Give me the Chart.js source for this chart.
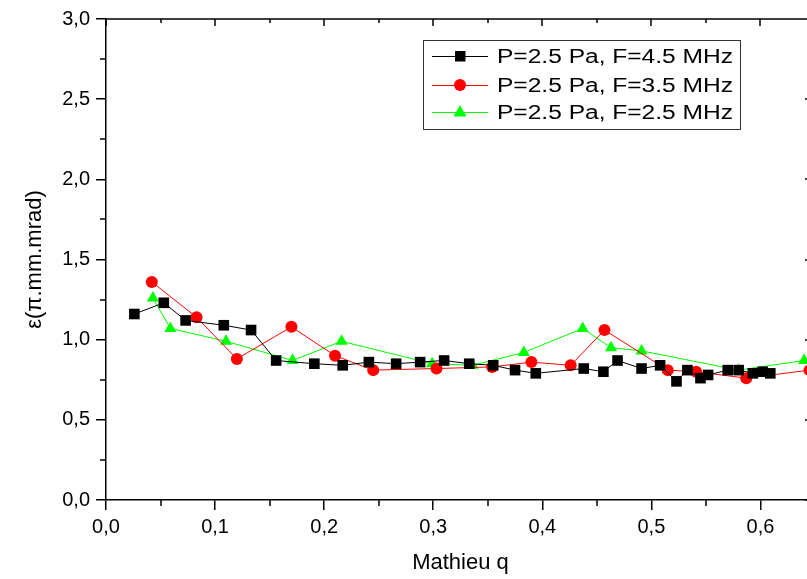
<!DOCTYPE html>
<html>
<head>
<meta charset="utf-8">
<script src="https://cdn.jsdelivr.net/npm/chart.js@4.4.1/dist/chart.umd.min.js"></script>
<style>
  html, body { margin: 0; padding: 0; overflow: hidden; background: #fff; }
  #wrap { position: absolute; left: 0; top: 0; width: 830px; height: 579px; }
</style>
</head>
<body>
<div id="wrap"><canvas id="chart"></canvas></div>
<script>
  'use strict';

  // axis ticks
  var xTicks = [0, 0.1, 0.2, 0.3, 0.4, 0.5, 0.6];
  var xMinor = [0.05, 0.15, 0.25, 0.35, 0.45, 0.55];
  var yTicks = [0, 0.5, 1.0, 1.5, 2.0, 2.5, 3.0];
  var yMinor = [0.25, 0.75, 1.25, 1.75, 2.25, 2.75];

  // P=2.5 Pa, F=4.5 MHz
  var q45 = [0.026, 0.053, 0.073, 0.108, 0.133, 0.156, 0.191, 0.217, 0.241, 0.266,
             0.288, 0.310, 0.333, 0.355, 0.375, 0.394, 0.438, 0.456, 0.469, 0.491,
             0.508, 0.523, 0.533, 0.545, 0.552, 0.570, 0.580, 0.593, 0.602, 0.609];
  var e45 = [1.16, 1.23, 1.12, 1.09, 1.06, 0.87, 0.85, 0.84, 0.86, 0.85,
             0.86, 0.87, 0.85, 0.84, 0.81, 0.79, 0.82, 0.80, 0.87, 0.82,
             0.84, 0.74, 0.81, 0.76, 0.78, 0.81, 0.81, 0.79, 0.80, 0.79];

  // P=2.5 Pa, F=3.5 MHz
  var q35 = [0.042, 0.083, 0.120, 0.170, 0.210, 0.245, 0.303, 0.354, 0.390, 0.426,
             0.457, 0.515, 0.541, 0.587, 0.645];
  var e35 = [1.36, 1.14, 0.88, 1.08, 0.90, 0.81, 0.82, 0.83, 0.86, 0.84,
             1.06, 0.81, 0.80, 0.76, 0.81];

  // P=2.5 Pa, F=2.5 MHz
  var q25 = [0.043, 0.059, 0.110, 0.171, 0.216, 0.299, 0.336, 0.383, 0.437, 0.463,
             0.491, 0.580, 0.640];
  var e25 = [1.26, 1.07, 0.99, 0.87, 0.99, 0.85, 0.84, 0.92, 1.07, 0.95,
             0.93, 0.81, 0.87];

  var labels = ['P=2.5 Pa, F=4.5 MHz', 'P=2.5 Pa, F=3.5 MHz', 'P=2.5 Pa, F=2.5 MHz'];
  var colors = ['#000000', '#ff0000', '#00ff00'];
  var styles = ['rect', 'circle', 'triangle'];
  var radii = [7.5, 6, 7];

  function pairs(xs, ys) {
    return xs.map(function(x, i) { return {x: x, y: ys[i]}; });
  }

  function comma(v) {
    return v.toFixed(1).replace('.', ',');
  }

  var seriesData = [pairs(q45, e45), pairs(q35, e35), pairs(q25, e25)];

  var datasets = seriesData.map(function(d, i) {
    return {
      label: labels[i],
      data: d,
      borderColor: colors[i],
      backgroundColor: colors[i],
      borderWidth: 1,
      pointStyle: styles[i],
      pointRadius: radii[i],
      pointHoverRadius: radii[i],
      pointBorderWidth: 0,
      tension: 0
    };
  });

  // frame: top/right axes, minor ticks
  var framePlugin = {
    id: 'frame',
    afterDraw: function(chart) {
      var ctx = chart.ctx, a = chart.chartArea;
      var xs = chart.scales.x, ys = chart.scales.y;
      ctx.save();
      ctx.strokeStyle = '#000';
      ctx.lineWidth = 1.5;
      ctx.beginPath();
      ctx.moveTo(a.left, a.top);
      ctx.lineTo(a.right, a.top);
      ctx.lineTo(a.right, a.bottom);
      xMinor.forEach(function(v) {
        var p = Math.round(xs.getPixelForValue(v));
        ctx.moveTo(p, a.bottom); ctx.lineTo(p, a.bottom + 6);
        ctx.moveTo(p, a.top); ctx.lineTo(p, a.top + 4);
      });
      xTicks.forEach(function(v) {
        var p = Math.round(xs.getPixelForValue(v));
        ctx.moveTo(p, a.top); ctx.lineTo(p, a.top + 7);
      });
      yMinor.forEach(function(v) {
        var p = Math.round(ys.getPixelForValue(v));
        ctx.moveTo(a.left, p); ctx.lineTo(a.left - 6, p);
        ctx.moveTo(a.right, p); ctx.lineTo(a.right - 5, p);
      });
      yTicks.forEach(function(v) {
        var p = Math.round(ys.getPixelForValue(v));
        ctx.moveTo(a.right, p); ctx.lineTo(a.right - 10, p);
      });
      ctx.stroke();
      ctx.restore();
    }
  };

  // legend box with line-marker-line samples
  var legendPlugin = {
    id: 'boxLegend',
    afterDraw: function(chart) {
      var ctx = chart.ctx;
      var box = {x: 423.5, y: 40.5, w: 317, h: 89};
      var rows = [56, 85, 112];
      ctx.save();
      ctx.fillStyle = '#fff';
      ctx.fillRect(box.x, box.y, box.w, box.h);
      ctx.strokeStyle = '#333';
      ctx.lineWidth = 1;
      ctx.strokeRect(box.x, box.y, box.w, box.h);
      rows.forEach(function(y, i) {
        ctx.strokeStyle = colors[i];
        ctx.fillStyle = colors[i];
        ctx.lineWidth = 1;
        ctx.beginPath();
        ctx.moveTo(432, y + 0.5);
        ctx.lineTo(488, y + 0.5);
        ctx.stroke();
        ctx.beginPath();
        if (i === 0) {
          ctx.rect(455, y - 5, 10.5, 10.5);
        } else if (i === 1) {
          ctx.arc(460, y, 6, 0, Math.PI * 2);
        } else {
          ctx.moveTo(460, y - 7);
          ctx.lineTo(466.5, y + 4.5);
          ctx.lineTo(453.5, y + 4.5);
          ctx.closePath();
        }
        ctx.fill();

        ctx.fillStyle = '#000';
        ctx.font = '20px "Liberation Sans", Arial, sans-serif';
        ctx.textBaseline = 'middle';
        var w = ctx.measureText(labels[i]).width;
        var sx = 236 / w;
        ctx.save();
        ctx.translate(497, y + 1);
        ctx.scale(sx, 1);
        ctx.fillText(labels[i], 0, 0);
        ctx.restore();
      });
      ctx.restore();
    }
  };

  var tickFont = {family: '"Liberation Sans", Arial, sans-serif', size: 20};
  var titleFont = {family: '"Liberation Sans", Arial, sans-serif', size: 22};

  new Chart(document.getElementById('chart'), {
    type: 'line',
    data: {datasets: datasets},
    options: {
      responsive: true,
      maintainAspectRatio: false,
      animation: false,
      layout: {padding: {top: 19, right: 15, left: 0, bottom: 0}},
      plugins: {
        legend: {display: false},
        tooltip: {enabled: false}
      },
      scales: {
        x: {
          type: 'linear',
          min: 0,
          max: 0.65,
          afterBuildTicks: function(scale) {
            scale.ticks = xTicks.map(function(v) { return {value: v}; });
          },
          afterFit: function(scale) { scale.height = 79; },
          ticks: {
            color: '#000',
            font: tickFont,
            padding: 5,
            maxRotation: 0,
            callback: function(v) { return comma(v); }
          },
          grid: {
            drawOnChartArea: false,
            drawTicks: true,
            tickLength: 10,
            color: '#000',
            lineWidth: 1.5
          },
          border: {display: true, color: '#000', width: 1.5},
          title: {
            display: true,
            text: 'Mathieu q',
            color: '#000',
            font: titleFont,
            padding: {top: 0, bottom: 3}
          }
        },
        y: {
          type: 'linear',
          min: 0,
          max: 3,
          afterBuildTicks: function(scale) {
            scale.ticks = yTicks.map(function(v) { return {value: v}; });
          },
          afterFit: function(scale) { scale.width = 106; },
          ticks: {
            color: '#000',
            font: tickFont,
            padding: 6,
            callback: function(v) { return comma(v); }
          },
          grid: {
            drawOnChartArea: false,
            drawTicks: true,
            tickLength: 10,
            color: '#000',
            lineWidth: 1.5
          },
          border: {display: true, color: '#000', width: 1.5},
          title: {
            display: true,
            text: 'ε(π.mm.mrad)',
            color: '#000',
            font: titleFont,
            padding: {top: 22, bottom: 0}
          }
        }
      }
    },
    plugins: [framePlugin, legendPlugin]
  });
</script>
</body>
</html>
